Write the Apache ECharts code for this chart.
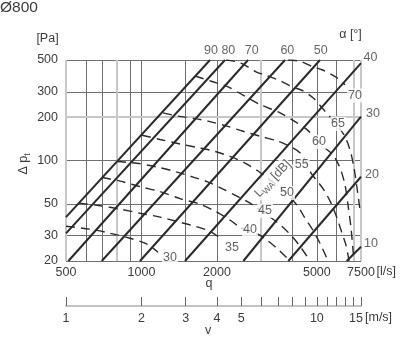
<!DOCTYPE html>
<html><head><meta charset="utf-8">
<script src="https://cdn.jsdelivr.net/npm/echarts@6/dist/echarts.min.js"></script>
<style>html,body{margin:0;padding:0;background:#fff}#c{width:400px;height:363px}</style>
</head><body><div id="c"></div>
<script>
// ---- axes / ticks ----
const qTicksLabeled = [500, 1000, 2000, 5000, 7500];
const qGridDark = [600, 700, 900, 1000, 1500, 2000, 4000, 5000, 6000];
const qGridLight = [500, 800, 3000, 7000, 7500];
const pTicksLabeled = [20, 30, 50, 100, 200, 300, 500];
const pGridDark = [20, 30, 50, 100, 300, 500];
const pGridLight = [200];
const vTicks = [1, 2, 3, 4, 5, 6, 7, 8, 9, 10, 11, 12, 13, 14, 15];
const vTicksLabeled = [1, 2, 3, 4, 5, 10, 15];

// ---- damper blade angle lines (alpha) ----
const alphaNames  = ['90', '80', '70', '60', '50', '40', '30', '20', '10'];
const alphaQStart = [500, 500, 511, 694, 986, 1491, 2547, 3849, 6578];
const alphaPStart = [40.4, 31.1, 20, 20, 20, 20, 20, 20, 20];
const alphaQEnd   = [1876, 2152, 2659, 3734, 5148, 7500, 7500, 7500, 7500];
const alphaPEnd   = [500, 500, 500, 500, 500, 475, 202, 77.1, 25.1];
const alphaLabelQ = [1893, 2219, 2750, 3815, 5183, 8187, 8376, 8298, 8224];
const alphaLabelP = [583, 583, 583, 583, 583, 516, 213, 79.3, 26.4];

// ---- sound power curves L_WA [dB] : [q, dp] ----
const lwa30 = [[500,34.9],[623,33.3],[749,31.2],[900,28.8],[1052,26.2],[1164,23.0]];
const lwa35 = [[563,50.5],[683,48.5],[821,45.9],[986,43.0],[1185,40.4],[1424,37.2],[1634,34.9],[1876,32.2],[2113,27.9]];
const lwa40 = [[696,76.1],[821,71.9],[986,65.8],[1185,60.8],[1424,54.3],[1711,49.7],[1964,44.4],[2254,38.5],[2470,34.4],[2914,30.7],[3166,27.9],[3502,24.1],[3910,20]];
const lwa45 = [[799,98.4],[960,95.6],[1153,90.1],[1386,83.1],[1605,76.7],[1825,71.4],[2094,63.8],[2403,56.5],[2708,50.5],[3469,37.2],[3910,30.7],[4286,25.3],[4698,20]];
const lwa50 = [[1005,149.9],[1185,140.1],[1424,130.3],[1711,122.2],[1964,115.6],[2254,106.7],[2586,96.0],[2914,84.5],[3254,73.1],[3567,65.3],[4170,48.9],[4487,39.7],[4828,32.7],[5194,25.7],[5542,20]];
const lwa55 = [[1219,214.5],[1398,203.4],[1634,195.7],[1842,187.7],[2193,173.2],[2539,159.8],[2968,147.5],[3502,136.1],[4019,122.2],[4365,109.2],[4742,81.8],[5056,70.8],[5341,62.3],[5696,50.5],[6018,39.7],[6302,31.2],[6537,25.7],[6720,20]];
const lwa60 = [[1634,386.8],[1910,354.5],[2193,327.2],[2539,284.9],[2968,245.1],[3567,214.5],[4170,182.6],[4570,164.0],[4918,143.5],[5391,122.2],[5802,109.2],[6189,88.6],[6477,67.5],[6658,48.9],[6845,33.8],[6971,23.7],[7035,20]];
const lwa65 = [[2173,500],[2470,478.7],[2861,414.2],[3166,388.4],[3567,358.5],[3983,325.6],[4405,305.4],[4828,272.9],[5244,232.4],[5644,201.1],[6419,150.6],[6782,118.4],[7035,88.6],[7232,64.3],[7434,45.2]];
const lwa70 = [[3839,500],[4286,490],[4828,448.6],[5244,427.7],[5644,401.1],[6018,376.1],[6477,336.2]];
const lwaNames  = ['30', '35', '40', '45', '50', '55', '60', '65', '70'];
const lwaLabelQ = [1299, 2295, 2708, 3108, 3804, 4350, 5095, 6074, 7100];
const lwaLabelP = [21.2, 24.8, 33.3, 44.6, 59.4, 93.0, 134.6, 179.6, 283.2];
const lwaTitlePos = [3313, 75.5];

const FONT = "'Liberation Sans', Arial, Helvetica, sans-serif";
const TXT = '#3c3c3c';
const FS = 12.5;
const lwaCurves = [lwa30, lwa35, lwa40, lwa45, lwa50, lwa55, lwa60, lwa65, lwa70];

const chart = echarts.init(document.getElementById('c'), null, {renderer: 'canvas'});
const series = [];

// light (grey) grid lines
series.push({
  type: 'line', xAxisIndex: 0, yAxisIndex: 0, data: [], silent: true, z: 1,
  markLine: {
    silent: true, symbol: ['none', 'none'], z: 1, animation: false,
    label: {show: false},
    lineStyle: {color: '#c8c8c8', width: 2, type: 'solid'},
    emphasis: {disabled: true},
    data: qGridLight.map(v => ({xAxis: v})).concat(pGridLight.map(v => ({yAxis: v})))
  }
});

alphaNames.forEach((n, i) => {
  series.push({
    type: 'line', name: 'a' + n, xAxisIndex: 0, yAxisIndex: 0, silent: true, z: 3,
    showSymbol: false, symbol: 'none',
    data: [[alphaQStart[i], alphaPStart[i]], [alphaQEnd[i], alphaPEnd[i]]],
    lineStyle: {color: '#2a2a2a', width: 2}
  });
});

lwaCurves.forEach((c, i) => {
  series.push({
    type: 'line', name: 'L' + lwaNames[i], xAxisIndex: 0, yAxisIndex: 0, silent: true, z: 4,
    showSymbol: false, symbol: 'none', smooth: 0.3,
    data: c,
    lineStyle: {color: '#2a2a2a', width: 1.4, type: [9, 6]}
  });
});

// alpha labels
series.push({
  type: 'scatter', xAxisIndex: 0, yAxisIndex: 0, symbolSize: 0, clip: false, silent: true, z: 10,
  data: alphaNames.map((n, i) => ({name: n, value: [alphaLabelQ[i], alphaLabelP[i]]})),
  label: {show: true, position: 'inside', formatter: '{b}', color: TXT, fontSize: FS, fontFamily: FONT}
});
// L_WA labels
series.push({
  type: 'scatter', xAxisIndex: 0, yAxisIndex: 0, symbolSize: 0, clip: false, silent: true, z: 10,
  data: lwaNames.map((n, i) => ({name: n, value: [lwaLabelQ[i], lwaLabelP[i]]})),
  label: {show: true, position: 'inside', formatter: '{b}', color: TXT, fontSize: FS, fontFamily: FONT,
          backgroundColor: '#fff', padding: [1, 1, 0, 1]}
});
// L_WA [dB] title along curve
series.push({
  type: 'scatter', xAxisIndex: 0, yAxisIndex: 0, symbolSize: 0, clip: false, silent: true, z: 10,
  data: [{name: 'LWA', value: lwaTitlePos}],
  label: {show: true, position: 'inside', rotate: 46, backgroundColor: '#fff', padding: [0, 1],
    formatter: '{l|L}{s|WA}{l| [dB]}',
    rich: {
      l: {fontSize: FS, fontFamily: FONT, color: TXT, lineHeight: 15, verticalAlign: 'bottom'},
      s: {fontSize: 8.5, fontFamily: FONT, color: TXT, lineHeight: 9, verticalAlign: 'bottom', padding: [0, 0, -2, 0]}
    }}
});
series.push({type: 'line', xAxisIndex: 1, yAxisIndex: 1, data: []});

const fmt = v => String(Math.round(v));

chart.setOption({
  animation: false,
  backgroundColor: '#fff',
  textStyle: {fontFamily: FONT},
  grid: [
    {left: 66, top: 60, width: 295, height: 201},
    {left: 66, top: 297, width: 295, height: 9}
  ],
  xAxis: [
    {type: 'log', logBase: 10, gridIndex: 0, min: 500, max: 7500,
     axisLine: {show: false},
     axisTick: {show: false, customValues: qGridDark},
     axisLabel: {customValues: qTicksLabeled, margin: 5, color: TXT, fontSize: FS, fontFamily: FONT, formatter: fmt},
     splitLine: {show: true, lineStyle: {color: '#707070', width: 1}},
     minorTick: {show: false}, minorSplitLine: {show: false}},
    {type: 'log', logBase: 10, gridIndex: 1, min: 1, max: 15, position: 'bottom',
     axisLine: {show: true, lineStyle: {color: '#c4c4c4', width: 2}},
     axisTick: {show: true, inside: true, length: 9, customValues: vTicks, lineStyle: {color: '#666', width: 1}},
     axisLabel: {customValues: vTicksLabeled, margin: 6, color: TXT, fontSize: FS, fontFamily: FONT,
       formatter: v => Math.round(v) === 15 ? '{r|15}' : fmt(v),
       rich: {r: {fontSize: FS, fontFamily: FONT, color: TXT, padding: [0, 10, 0, 0]}}},
     splitLine: {show: false}}
  ],
  yAxis: [
    {type: 'log', logBase: 10, gridIndex: 0, min: 20, max: 500,
     axisLine: {show: false},
     axisTick: {show: false, customValues: pGridDark},
     axisLabel: {customValues: pTicksLabeled, margin: 8, color: TXT, fontSize: FS, fontFamily: FONT, formatter: fmt},
     splitLine: {show: true, lineStyle: {color: '#707070', width: 1}},
     minorTick: {show: false}, minorSplitLine: {show: false}},
    {type: 'value', gridIndex: 1, min: 0, max: 1, show: false}
  ],
  graphic: [
    {type: 'text', x: 0, y: 8, style: {text: 'Ø800', fontSize: 15.5, fontFamily: FONT, fill: TXT, verticalAlign: 'middle'}},
    {type: 'text', x: 47.5, y: 38.5, style: {text: '[Pa]', fontSize: FS, fontFamily: FONT, fill: TXT, align: 'center', verticalAlign: 'middle'}},
    {type: 'text', x: 350.5, y: 35, style: {text: 'α [°]', fontSize: FS, fontFamily: FONT, fill: TXT, align: 'center', verticalAlign: 'middle'}},
    {type: 'text', x: 23, y: 164, rotation: Math.PI / 2, style: {
      text: '{a|Δ p}{b|t}', align: 'center', verticalAlign: 'middle',
      rich: {a: {fontSize: FS, fontFamily: FONT, fill: TXT, lineHeight: 15, verticalAlign: 'bottom'},
             b: {fontSize: 8.5, fontFamily: FONT, fill: TXT, lineHeight: 9, verticalAlign: 'bottom', padding: [0, 0, -2, 0]}}}},
    {type: 'text', x: 209, y: 283.5, style: {text: 'q', fontSize: FS, fontFamily: FONT, fill: TXT, align: 'center', verticalAlign: 'middle'}},
    {type: 'text', x: 208, y: 330.5, style: {text: 'v', fontSize: FS, fontFamily: FONT, fill: TXT, align: 'center', verticalAlign: 'middle'}},
    {type: 'text', x: 376.5, y: 271.5, style: {text: '[l/s]', fontSize: FS, fontFamily: FONT, fill: TXT, verticalAlign: 'middle'}},
    {type: 'text', x: 365, y: 317.5, style: {text: '[m/s]', fontSize: FS, fontFamily: FONT, fill: TXT, verticalAlign: 'middle'}}
  ],
  series: series
});
</script>
</body></html>
